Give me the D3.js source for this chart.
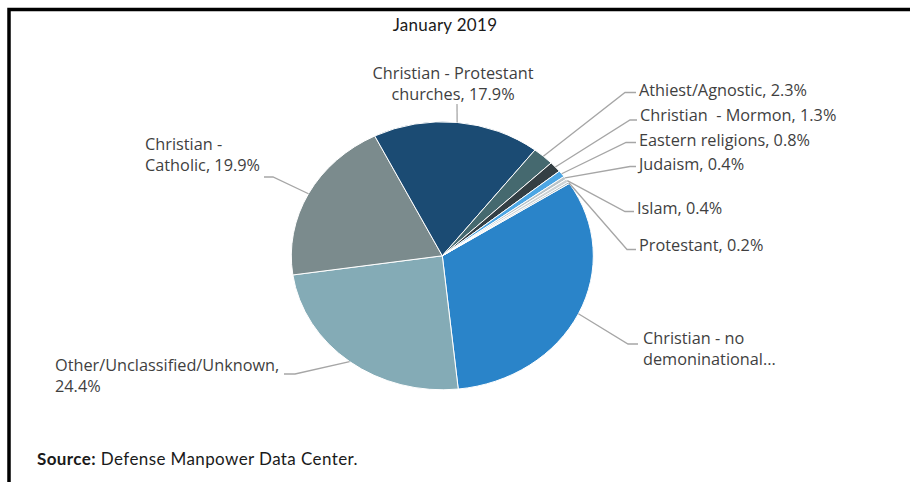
<!DOCTYPE html>
<html lang="en">
<head>
    <meta charset="UTF-8">
    <title>January 2019 - Religious Preference</title>
    <script src="https://d3js.org/d3.v7.min.js"></script>
    <style>
        body { margin: 0; background: white; }
        svg { display: block; }
        .lbl { font-family: "Open Sans", sans-serif; font-size: 16.3px; fill: #3f3f3f; }
        .gill { font-family: Lato, sans-serif; fill: #1a1a1a; }
    </style>
</head>
<body>
    <svg id="chart" width="910" height="482"></svg>

    <script>
        // data, in clockwise order
        const categories = [
            "Christian - no demoninational",
            "Other/Unclassified/Unknown",
            "Christian - Catholic",
            "Christian - Protestant churches",
            "Athiest/Agnostic",
            "Christian  - Mormon",
            "Eastern religions",
            "Judaism",
            "Islam",
            "Protestant"
        ];
        const shares = [32.4, 24.4, 19.9, 17.9, 2.3, 1.3, 0.8, 0.4, 0.4, 0.2];
        const colors = ["#2a84c9", "#84abb6", "#7b8b8d", "#1b4b73", "#45696f",
                        "#343f44", "#4ca6e4", "#b9c3c8", "#cdd3d6", "#a4b6bf"];

        // label placement (Excel-style manual positions): text anchor, line break, leader elbow/end
        const labelLayout = [
            { x: 643, y: 344, anchor: "start", split: "Christian - no", truncate: true, elbow: [628, 344], end: [638, 344] },
            { x: 55, y: 371, anchor: "start", split: "Other/Unclassified/Unknown,", elbow: [295, 374], end: [284, 374] },
            { x: 145, y: 150, anchor: "start", split: "Christian -", elbow: [273, 177], end: [264, 177] },
            { x: 453, y: 79, anchor: "middle", split: "Christian - Protestant", elbow: [457, 104], end: [457, 104] },
            { x: 639, y: 96, anchor: "start", elbow: [625, 92.5], end: [636, 92.5] },
            { x: 640, y: 121, anchor: "start", elbow: [630, 120], end: [637, 120] },
            { x: 639, y: 146, anchor: "start", elbow: [626, 142.5], end: [636, 142.5] },
            { x: 639, y: 170, anchor: "start", elbow: [630, 166.5], end: [636, 166.5] },
            { x: 637, y: 214, anchor: "start", elbow: [625, 211.5], end: [634, 211.5] },
            { x: 639, y: 251, anchor: "start", elbow: [627, 249.5], end: [636, 249.5] }
        ];

        const svg = d3.select("#chart");
        const cx = 442.3, cy = 255.8, rx = 151, ry = 134;
        const start = 57.3 * Math.PI / 180;

        // frame
        svg.append("path")
            .attr("d", "M9,482 V9.5 H910")
            .attr("fill", "none")
            .attr("stroke", "black")
            .attr("stroke-width", 3.5);

        svg.append("text")
            .attr("class", "gill")
            .attr("x", 445)
            .attr("y", 31)
            .attr("text-anchor", "middle")
            .style("font-size", "17px")
            .style("letter-spacing", "0.3px")
            .text("January 2019");

        const source = svg.append("text")
            .attr("class", "gill")
            .attr("x", 37)
            .attr("y", 465)
            .style("font-size", "17px")
            .style("letter-spacing", "0.4px");
        source.append("tspan").attr("font-weight", "bold").text("Source:");
        source.append("tspan").text(" Defense Manpower Data Center.");

        const data = categories.map((c, i) => ({ name: c, value: shares[i], color: colors[i], layout: labelLayout[i] }));

        const pie = d3.pie()
            .sort(null)
            .value(d => d.value)
            .startAngle(start)
            .endAngle(start + 2 * Math.PI);
        const arcs = pie(data);

        const arc = d3.arc().innerRadius(0).outerRadius(ry);

        // pie is slightly stretched horizontally, like the source picture
        const pieG = svg.append("g")
            .attr("transform", `translate(${cx},${cy}) scale(${rx / ry},1)`);

        pieG.selectAll("path")
            .data(arcs)
            .enter()
            .append("path")
            .attr("d", arc)
            .attr("fill", d => d.data.color)
            .attr("stroke", "white")
            .attr("stroke-width", 1)
            .attr("vector-effect", "non-scaling-stroke");

        // leader lines
        function edgePoint(a) {
            return [cx + rx * Math.sin(a), cy - ry * Math.cos(a)];
        }

        svg.selectAll("path.leader")
            .data(arcs)
            .enter()
            .append("path")
            .classed("leader", true)
            .attr("d", d => {
                const p = edgePoint((d.startAngle + d.endAngle) / 2);
                const l = d.data.layout;
                return d3.line()([p, l.elbow, l.end]);
            })
            .attr("fill", "none")
            .attr("stroke", "#a6a6a6")
            .attr("stroke-width", 1.3);

        // labels
        const labels = svg.selectAll("text.lbl")
            .data(arcs)
            .enter()
            .append("text")
            .classed("lbl", true)
            .attr("x", d => d.data.layout.x)
            .attr("y", d => d.data.layout.y)
            .attr("text-anchor", d => d.data.layout.anchor);

        labels.each(function(d) {
            const l = d.data.layout;
            let txt = l.truncate ? d.data.name + "..." : `${d.data.name}, ${d.data.value.toFixed(1)}%`;
            let lines = [txt];
            if (l.split) {
                lines = [l.split, txt.slice(l.split.length).trim()];
            }
            d3.select(this).selectAll("tspan")
                .data(lines)
                .enter()
                .append("tspan")
                .attr("x", l.x)
                .attr("dy", (s, i) => i === 0 ? 0 : 20.5)
                .style("white-space", "pre")
                .text(s => s);
        });
    </script>
</body>
</html>
